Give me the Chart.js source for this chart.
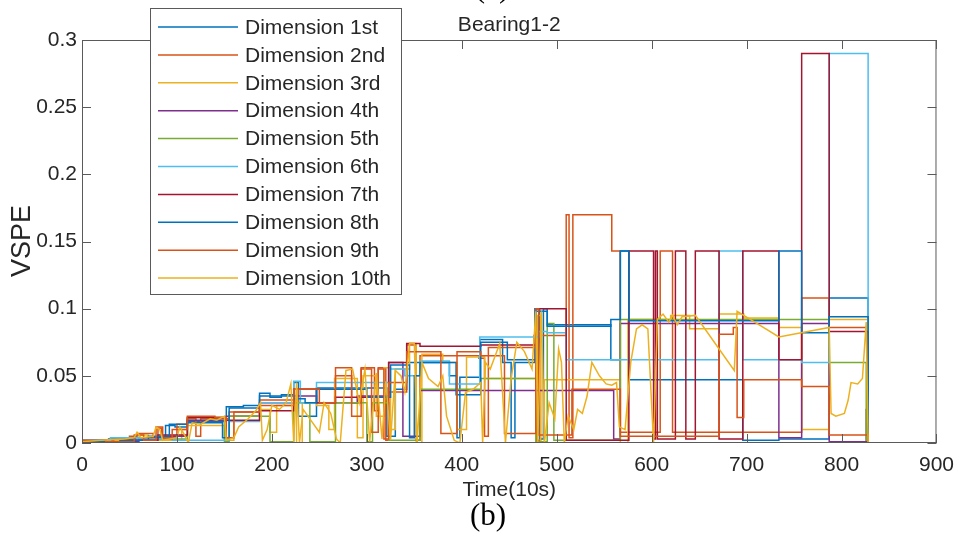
<!DOCTYPE html>
<html>
<head>
<meta charset="utf-8">
<script src="https://cdn.jsdelivr.net/npm/chart.js@4.4.1/dist/chart.umd.min.js"></script>
<style>
  html, body { margin: 0; padding: 0; background: #fff; }
  #wrap { width: 964px; height: 541px; }
</style>
</head>
<body>
<div id="wrap"><canvas id="vspeChart" width="964" height="541"></canvas></div>
<script>
// each series: [time, VSPE] pairs, value holds until next point (stairs)
const dim1 = [[0,0.002],[28,0.003],[56,0.004],[88,0.013],[98,0.012],[111,0.016],[152,0.027],[170,0.028],[187,0.037],[198,0.034],[210,0.036],[223,0.045],[228,0.02],[247,0.041],[318,0.041],[321,0.005],[330,0.04],[342,0.06],[387,0.05],[395,0.004],[398,0.049],[419,0.077],[443,0.06],[452,0.004],[456,0.06],[477,0.1],[482,0.003],[486,0.1],[490,0.088],[557,0.062],[567,0.143],[576,0.047],[696,0.002],[734,0.003],[787,0.108],[828,0]];
const dim2 = [[0,0.001],[20,0.002],[50,0.005],[58,0.007],[75,0.003],[80,0.011],[84,0.004],[100,0.014],[111,0.018],[120,0.005],[125,0.018],[155,0.023],[187,0.032],[223,0.03],[228,0.04],[267,0.056],[284,0.03],[294,0.056],[308,0.024],[312,0.056],[320,0.002],[323,0.038],[342,0.073],[352,0.002],[356,0.065],[418,0.063],[424,0.005],[428,0.071],[476,0.08],[479,0.002],[483,0.08],[510,0.17],[513,0.004],[517,0.17],[558,0.143],[567,0.008],[609,0.143],[622,0.008],[758,0.108],[787,0.086],[828,0]];
const dim3 = [[0,0.001],[35,0.002],[60,0.006],[70,0.002],[105,0.01],[111,0.013],[150,0.002],[160,0.02],[187,0.025],[198,0.008],[205,0.028],[223,0.04],[226,0],[232,0.03],[247,0.028],[260,0.01],[266,0.048],[280,0.048],[290,0.004],[296,0.05],[310,0.02],[318,0.056],[325,0.01],[330,0.055],[345,0.074],[352,0],[358,0.066],[380,0.06],[395,0.01],[405,0.064],[424,0.048],[480,0.095],[483,0],[487,0.047],[567,0],[575,0.092],[620,0.095],[640,0.085],[671,0.096],[697,0.093],[734,0.086],[758,0.01],[787,0.092],[828,0]];
const dim4 = [[0,0.001],[60,0.003],[85,0.005],[111,0.017],[152,0.02],[187,0.03],[223,0.035],[247,0.03],[290,0.035],[323,0.06],[338,0.005],[356,0.039],[420,0.039],[560,0.003],[567,0.089],[734,0.004],[758,0.089],[787,0.001],[826,0.025],[828,0]];
const dim5 = [[0,0.001],[40,0.002],[75,0.003],[111,0.019],[150,0.001],[155,0.02],[187,0.02],[198,0.001],[223,0.03],[240,0.001],[267,0.03],[300,0.001],[306,0.03],[323,0.002],[356,0.04],[400,0.04],[420,0.048],[478,0.001],[490,0.089],[497,0.002],[567,0.092],[787,0.06],[826,0.002],[828,0]];
const dim6 = [[0,0.002],[30,0.004],[60,0.003],[95,0.002],[155,0.016],[187,0.03],[223,0.046],[230,0.03],[247,0.045],[323,0.055],[340,0.05],[356,0.061],[387,0.044],[419,0.079],[481,0.083],[490,0.082],[510,0.062],[671,0.143],[696,0.062],[758,0.06],[787,0.29],[828,0]];
const dim7 = [[0,0.001],[45,0.002],[80,0.006],[111,0.019],[152,0.017],[187,0.024],[223,0.04],[247,0.03],[267,0.034],[323,0.06],[342,0.074],[356,0.072],[420,0.073],[478,0.1],[510,0.002],[576,0.143],[602,0.003],[604,0.143],[606,0.003],[625,0.143],[636,0.003],[646,0.143],[671,0.003],[696,0.143],[734,0.062],[758,0.29],[787,0.083],[828,0]];
const dim8 = [[0,0.001],[40,0.002],[70,0.005],[92,0.014],[111,0.015],[148,0.004],[155,0.026],[187,0.035],[223,0.033],[235,0.03],[247,0.04],[300,0.034],[325,0.058],[345,0.004],[350,0.05],[356,0.06],[394,0.036],[420,0.075],[448,0.062],[478,0.098],[490,0.087],[557,0.092],[567,0.143],[576,0.091],[734,0.143],[758,0.082],[787,0.094],[828,0]];
const dim9 = [[0,0.002],[25,0.001],[55,0.006],[65,0.002],[78,0.012],[85,0.003],[95,0.01],[111,0.02],[140,0.019],[152,0.004],[160,0.023],[187,0.028],[223,0.04],[250,0.03],[267,0.05],[284,0.02],[294,0.055],[305,0.008],[312,0.055],[318,0.003],[323,0.045],[342,0.068],[378,0.007],[395,0.068],[420,0.065],[445,0.007],[478,0.1],[481,0.006],[516,0.04],[567,0.005],[671,0.081],[686,0.086],[690,0.019],[697,0.047],[758,0.042],[787,0.006],[828,0]];
// dimension 10 drifts, so it is drawn point to point
const dim10 = [[0,0.001],[20,0.002],[45,0.003],[55,0.004],[58,0.008],[62,0.004],[75,0.005],[78,0.012],[82,0.01],[85,0.002],[100,0.004],[103,0.012],[108,0.006],[112,0],[116,0.015],[125,0.014],[135,0.018],[142,0.017],[150,0.02],[152,0.002],[160,0.004],[165,0.012],[175,0.018],[183,0.024],[188,0.03],[190,0.002],[195,0.01],[200,0.028],[208,0.025],[215,0.03],[220,0.044],[223,0.001],[226,0.045],[229,0],[233,0.025],[240,0.018],[250,0.008],[255,0.03],[262,0.022],[268,0.003],[272,0],[278,0.054],[285,0.055],[292,0.03],[298,0.055],[303,0.001],[310,0.052],[316,0.003],[320,0.046],[325,0.002],[330,0.054],[336,0.05],[340,0.038],[345,0.074],[350,0.074],[353,0],[358,0.06],[365,0.048],[375,0.042],[380,0.05],[384,0.02],[392,0.002],[398,0],[404,0.038],[412,0.04],[420,0.045],[422,0],[425,0.06],[430,0.055],[440,0.074],[446,0],[452,0.048],[458,0.075],[466,0.068],[474,0.055],[478,0.098],[480,0],[484,0.098],[487,0],[492,0.03],[498,0.018],[502,0.07],[505,0.06],[508,0],[512,0.02],[518,0.01],[522,0.025],[527,0.022],[532,0.035],[537,0.06],[545,0.05],[552,0.044],[558,0.043],[563,0.045],[566,0.012],[572,0.01],[578,0.06],[584,0.085],[590,0.088],[596,0.085],[602,0],[606,0.092],[612,0.096],[618,0.09],[622,0.095],[627,0.088],[632,0.094],[646,0.095],[687,0.054],[690,0.098],[697,0.095],[734,0.079],[787,0.086],[789,0.022],[794,0.02],[803,0.022],[807,0.032],[810,0.045],[817,0.044],[822,0.048],[826,0.09],[828,0]];

const seriesData = [dim1, dim2, dim3, dim4, dim5, dim6, dim7, dim8, dim9, dim10];
const seriesLabels = ['Dimension 1st', 'Dimension 2nd', 'Dimension 3rd', 'Dimension 4th', 'Dimension 5th',
                      'Dimension 6th', 'Dimension 7th', 'Dimension 8th', 'Dimension 9th', 'Dimension 10th'];
const xTicks = [0, 100, 200, 300, 400, 500, 600, 700, 800, 900];
const yTicks = [0, 0.05, 0.1, 0.15, 0.2, 0.25, 0.3];

// matlab default line colours
const lineColors = ['#0072BD', '#D95319', '#EDB120', '#7E2F8E', '#77AC30', '#4DBEEE', '#A2142F', '#0072BD', '#D95319', '#EDB120'];
const inkColor = '#262626';
const boxColor = '#5a5a5a';
const sansFont = '"Liberation Sans", Arial, sans-serif';

// box, inward ticks, title, labels, legend
const matlabAxes = {
    id: 'matlabAxes',
    afterDraw(chart) {
        const ctx = chart.ctx;
        const a = chart.chartArea;
        const xs = chart.scales.x, ys = chart.scales.y;
        ctx.save();
        ctx.strokeStyle = boxColor;
        ctx.lineWidth = 1;
        ctx.strokeRect(a.left + 0.5, a.top + 0.5, a.right - a.left - 1, a.bottom - a.top - 1);

        ctx.beginPath();
        xTicks.forEach(v => {
            const px = Math.round(xs.getPixelForValue(v)) + 0.5;
            ctx.moveTo(px, a.bottom); ctx.lineTo(px, a.bottom - 9);
            ctx.moveTo(px, a.top); ctx.lineTo(px, a.top + 9);
        });
        yTicks.forEach(v => {
            const py = Math.round(ys.getPixelForValue(v)) + 0.5;
            ctx.moveTo(a.left, py); ctx.lineTo(a.left + 9, py);
            ctx.moveTo(a.right, py); ctx.lineTo(a.right - 9, py);
        });
        ctx.stroke();

        ctx.fillStyle = inkColor;
        ctx.textAlign = 'center';
        ctx.textBaseline = 'middle';
        const midX = (a.left + a.right) / 2;
        ctx.font = '21px ' + sansFont;
        ctx.fillText('Bearing1-2', midX, 25);
        ctx.fillText('Time(10s)', midX, 490);

        ctx.save();
        ctx.translate(23, 241);
        ctx.rotate(-Math.PI / 2);
        ctx.font = '27px ' + sansFont;
        ctx.fillText('VSPE', 0, 0);
        ctx.restore();

        ctx.fillStyle = '#000';
        ctx.font = '31px "Liberation Serif", "Times New Roman", serif';
        ctx.fillText('(b)', 488, 517);
        ctx.textBaseline = 'alphabetic';
        ctx.fillText('(a)', 492, -3);

        // legend
        ctx.fillStyle = '#fff';
        ctx.fillRect(150, 8, 251, 286);
        ctx.strokeStyle = boxColor;
        ctx.strokeRect(150.5, 8.5, 251, 286);
        ctx.font = '21px ' + sansFont;
        ctx.textAlign = 'left';
        ctx.textBaseline = 'middle';
        seriesLabels.forEach((lab, i) => {
            const y = 27 + i * 27.9;
            ctx.strokeStyle = lineColors[i];
            ctx.lineWidth = 1.5;
            ctx.beginPath();
            ctx.moveTo(158, y); ctx.lineTo(238, y);
            ctx.stroke();
            ctx.fillStyle = inkColor;
            ctx.fillText(lab, 245, y + 1);
        });
        ctx.restore();
    }
};

const datasets = seriesData.map((pts, i) => ({
    label: seriesLabels[i],
    data: pts.map(p => ({ x: p[0], y: p[1] })),
    borderColor: lineColors[i],
    borderWidth: 1.5,
    pointRadius: 0,
    fill: false,
    stepped: i < 9,
    tension: 0,
    order: 10 - i
}));

new Chart(document.getElementById('vspeChart'), {
    type: 'line',
    data: { datasets },
    options: {
        responsive: false,
        animation: false,
        layout: { padding: { top: 40, right: 23, left: 0, bottom: 0 } },
        plugins: {
            legend: { display: false },
            tooltip: { enabled: false },
            title: { display: false }
        },
        scales: {
            x: {
                type: 'linear',
                min: 0,
                max: 900,
                afterBuildTicks: s => { s.ticks = xTicks.map(v => ({ value: v })); },
                afterFit: s => { s.height = 98; },
                grid: { display: false, drawTicks: false },
                border: { display: false },
                ticks: { color: inkColor, padding: 10, maxRotation: 0, font: { family: sansFont, size: 21 } }
            },
            y: {
                type: 'linear',
                min: 0,
                max: 0.3,
                afterBuildTicks: s => { s.ticks = yTicks.map(v => ({ value: v })); },
                afterFit: s => { s.width = 82; },
                grid: { display: false, drawTicks: false },
                border: { display: false },
                ticks: { color: inkColor, padding: 5, callback: v => String(v), font: { family: sansFont, size: 21 } }
            }
        }
    },
    plugins: [matlabAxes]
});
</script>
</body>
</html>
